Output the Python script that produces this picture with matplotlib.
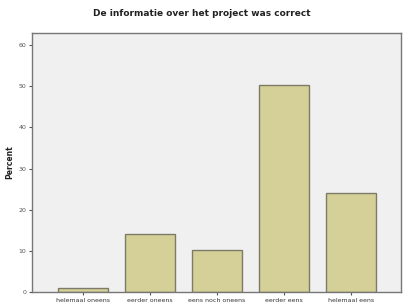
import matplotlib
matplotlib.use("Agg")
import matplotlib.pyplot as plt

categories = ["helemaal oneens", "eerder oneens", "eens noch oneens", "eerder eens", "helemaal eens"]
percent = [1.0, 14.1, 10.1, 50.3, 24.1]
yticks = [0, 10, 20, 30, 40, 50, 60]

fig = plt.figure(figsize=(4.04, 3.07), dpi=100)
fig.patch.set_facecolor("white")
ax = fig.add_axes([0.079, 0.049, 0.914, 0.844])
ax.set_facecolor("#f0f0f0")
x = list(range(len(categories)))
ax.bar(x, percent, width=0.75, color="#d4d098", edgecolor="#7d7b68", linewidth=1.0)
ax.set_xlim(-0.76, 4.75)
ax.set_ylim(0, 63)
ax.set_yticks(yticks)
ax.set_yticklabels([str(v) for v in yticks], fontsize=4.5, color="#555555")
ax.set_xticks(x)
ax.set_xticklabels(categories, fontsize=4.5, color="#333333")
ax.tick_params(axis="both", length=2.5, width=0.8, color="#555555", pad=1.5)
for s in ax.spines.values():
    s.set_color("#777777")
    s.set_linewidth(1.0)
ax.set_ylabel("Percent", fontsize=5.5, fontweight="bold", color="#222222", labelpad=3)
fig.text(0.5, 0.955, "De informatie over het project was correct", ha="center", va="center",
         fontsize=6.5, fontweight="bold", color="#222222")
fig.savefig("out.png", dpi=100)
